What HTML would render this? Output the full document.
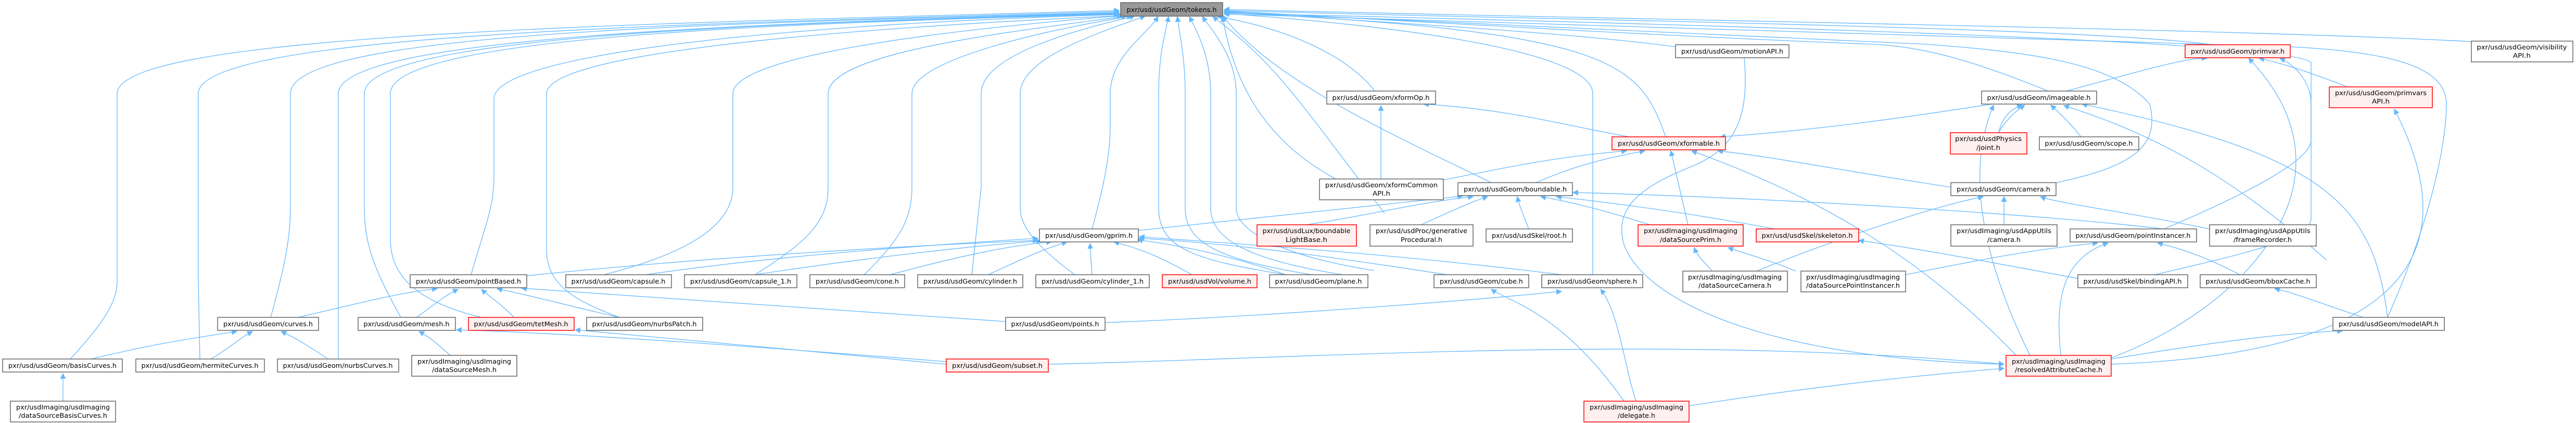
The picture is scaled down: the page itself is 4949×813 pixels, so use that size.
<!DOCTYPE html>
<html><head><meta charset="utf-8"><style>
html,body{margin:0;padding:0;background:#fff}
svg{display:block}
text{font-family:"DejaVu Sans","Liberation Sans",sans-serif;font-size:12.5px;fill:#000}
.e{fill:none;stroke:#63b8ff;stroke-width:1.3}
.n rect{fill:#fff;stroke:#666;stroke-width:1.5}
.r rect{fill:#fff0f0;stroke:#ff0000;stroke-width:1.5}
.t rect{fill:#999;stroke:#666;stroke-width:1.5}
</style></head><body>
<svg width="4949" height="813" viewBox="0 0 4949 813" xmlns="http://www.w3.org/2000/svg">
<defs><marker id="a" viewBox="0 0 10 10" refX="9" refY="5" markerWidth="11" markerHeight="11" markerUnits="userSpaceOnUse" orient="auto"><path d="M0,0 L10,5 L0,10 z" fill="#63b8ff"/></marker></defs>
<g marker-end="url(#a)">
<!-- tokens children left -->
<path class="e" d="M135 690 C200 620 225 580 225 540 L225 180 C225 60 1300 45 2150 20"/>
<path class="e" d="M384 690 L381 540 L381 180 C381 60 1400 45 2150 22"/>
<path class="e" d="M520 610 C545 520 558 460 558 400 L558 180 C558 60 1400 45 2150 24"/>
<path class="e" d="M650 690 L650 180 C650 70 1450 45 2150 25"/>
<path class="e" d="M770 610 C720 520 700 470 700 400 L700 180 C700 70 1450 45 2150 26"/>
<path class="e" d="M925 610 C800 580 750 530 750 460 L750 180 C750 70 1500 45 2150 27"/>
<path class="e" d="M905 528 C930 440 949 400 949 340 L949 190 C949 100 1550 45 2150 28"/>
<path class="e" d="M1190 610 C1110 580 1050 550 1050 480 L1050 180 C1050 110 1500 60 2155 30"/>
<path class="e" d="M1160 528 C1350 480 1408 420 1408 360 L1408 180 C1408 100 1900 50 2160 30"/>
<path class="e" d="M1450 528 C1560 460 1591 420 1591 360 L1591 180 C1591 100 1950 60 2165 31"/>
<path class="e" d="M1660 528 C1730 460 1752 420 1752 360 L1752 180 C1752 110 2050 50 2175 31"/>
<path class="e" d="M1867 528 L1885 360 L1885 180 C1885 100 2100 50 2180 31"/>
<path class="e" d="M2065 528 C2000 480 1960 440 1960 400 L1960 180 C1960 110 2120 60 2200 31"/>
<path class="e" d="M2098 440 C2120 360 2133 300 2133 240 L2133 180 C2133 110 2200 70 2225 32"/>
<path class="e" d="M2470 528 C2300 500 2226 480 2226 400 L2226 180 C2226 100 2240 60 2245 32"/>
<path class="e" d="M2520 528 C2350 500 2277 470 2277 400 L2277 180 C2277 110 2265 60 2262 32"/>
<path class="e" d="M2580 528 C2400 500 2326 460 2326 400 L2326 180 C2326 110 2300 60 2285 32"/>
<path class="e" d="M2640 520 C2450 490 2375 440 2375 400 L2375 180 C2375 110 2330 60 2310 32"/>
<path class="e" d="M2660 410 C2500 200 2450 120 2330 32"/>
<!-- tokens children right/middle -->
<path class="e" d="M2641 175 C2600 120 2500 60 2340 32"/>
<path class="e" d="M2566 344 C2430 270 2370 160 2349 32"/>
<path class="e" d="M2865 351 C2700 270 2450 160 2349 30"/>
<path class="e" d="M3060 528 L3060 180 C3060 100 2700 50 2352 26"/>
<path class="e" d="M3200 263 C3150 120 3100 60 2352 24"/>
<path class="e" d="M3219 90 C3000 60 2600 40 2352 22"/>
<path class="e" d="M4250 86 C4000 50 2800 35 2352 20"/>
<path class="e" d="M4748 80 C4300 55 3000 35 2352 18"/>
<path class="e" d="M3935 175 C3800 120 3700 90 3600 85 C3200 70 2700 40 2352 21"/>
<path class="e" d="M3950 351 C4100 320 4150 280 4130 200 C4060 120 3900 100 3700 85 C3200 60 2700 40 2352 23"/>
<path class="e" d="M4157 440 C4300 380 4440 310 4440 270 L4440 120 C4400 80 3400 50 2352 25"/>
<path class="e" d="M4587 610 C4680 400 4700 260 4700 200 C4700 130 4600 100 4400 90 C3500 60 2800 45 2352 27"/>
<!-- gprim children -->
<path class="e" d="M1012 530 C1400 490 1800 470 1994 462"/>
<path class="e" d="M1240 528 C1500 490 1800 470 1994 458"/>
<path class="e" d="M1450 528 C1700 490 1900 470 2000 463"/>
<path class="e" d="M1710 528 C1850 490 1950 470 2020 465"/>
<path class="e" d="M1898 528 C1960 500 2000 480 2050 465"/>
<path class="e" d="M2098 528 L2094 468"/>
<path class="e" d="M2290 528 C2240 500 2200 480 2140 465"/>
<path class="e" d="M2470 528 C2360 490 2260 470 2185 461"/>
<path class="e" d="M2780 528 C2600 500 2400 470 2188 458"/>
<path class="e" d="M3000 528 C2700 490 2400 470 2189 455"/>
<path class="e" d="M2187 443 C2500 410 2700 390 2810 377"/>
<!-- pointBased children -->
<path class="e" d="M573 610 C700 580 780 560 840 555"/>
<path class="e" d="M800 610 C830 590 850 570 880 556"/>
<path class="e" d="M987 610 C970 590 940 570 925 556"/>
<path class="e" d="M1190 610 C1100 590 1030 570 955 555"/>
<path class="e" d="M1932 618 C1500 590 1200 570 1002 554"/>
<!-- curves children -->
<path class="e" d="M175 690 C300 660 370 650 455 637"/>
<path class="e" d="M405 690 C440 670 460 650 485 637"/>
<path class="e" d="M630 690 C600 670 570 650 540 637"/>
<path class="e" d="M121 771 L121 718"/>
<path class="e" d="M865 683 C850 670 830 650 805 637"/>
<path class="e" d="M1818 695 C1500 670 1100 640 877 634"/>
<path class="e" d="M1818 700 C1600 680 1300 650 1105 634"/>
<path class="e" d="M2014 700 C2500 690 3200 640 3850 700"/>
<path class="e" d="M2123 620 C2400 610 2800 580 3000 560"/>
<!-- boundable children -->
<path class="e" d="M2510 432 C2650 410 2720 390 2830 378"/>
<path class="e" d="M2730 432 C2780 410 2820 390 2858 378"/>
<path class="e" d="M2937 440 C2930 420 2920 400 2915 378"/>
<path class="e" d="M3170 432 C3100 410 3030 390 2960 378"/>
<path class="e" d="M3410 440 C3250 410 3100 390 2990 378"/>
<path class="e" d="M4157 440 C3900 410 3400 380 3022 370"/>
<!-- xformable -->
<path class="e" d="M2773 346 C2900 320 3000 300 3125 290"/>
<path class="e" d="M2951 351 C3000 330 3050 310 3160 290"/>
<path class="e" d="M3243 432 L3210 290"/>
<path class="e" d="M3750 360 C3550 330 3400 300 3300 290"/>
<path class="e" d="M3880 690 C3700 500 3500 380 3250 290"/>
<path class="e" d="M3130 263 C3000 240 2900 210 2735 200"/>
<path class="e" d="M2653 344 L2653 203"/>
<path class="e" d="M3860 195 C3700 220 3500 250 3305 263"/>
<!-- imageable -->
<path class="e" d="M3840 255 C3845 230 3860 210 3885 202"/>
<path class="e" d="M3840 255 C3850 235 3870 215 3890 202"/>
<path class="e" d="M3998 263 C3980 240 3960 220 3940 202"/>
<path class="e" d="M3900 683 C3800 480 3780 320 3830 202"/>
<path class="e" d="M4470 500 C4300 350 4150 260 3965 203"/>
<path class="e" d="M4587 610 C4560 400 4480 300 4000 200"/>
<path class="e" d="M3970 175 C4100 140 4200 110 4240 112"/>
<path class="e" d="M4510 167 C4440 140 4380 120 4340 112"/>
<path class="e" d="M4050 690 C4300 600 4550 350 4320 112"/>
<path class="e" d="M4056 700 C4600 680 4750 500 4600 210"/>
<!-- camera -->
<path class="e" d="M3850 432 L3850 378"/>
<path class="e" d="M4245 440 C4100 410 3950 390 3920 378"/>
<path class="e" d="M3375 521 C3500 470 3700 400 3810 378"/>
<path class="e" d="M3290 521 C3270 500 3260 490 3255 476"/>
<path class="e" d="M3450 521 C3400 500 3360 490 3320 476"/>
<path class="e" d="M3661 528 C3800 500 3900 480 4030 467"/>
<path class="e" d="M4303 528 C4250 500 4200 480 4145 467"/>
<path class="e" d="M3960 690 C3950 600 3950 500 4050 467"/>
<path class="e" d="M4140 528 C4300 490 4440 460 4440 420 L4440 200 C4440 150 4400 120 4380 112"/>
<path class="e" d="M4540 610 C4450 580 4400 560 4370 555"/>
<path class="e" d="M4056 690 C4300 650 4400 640 4500 636"/>
<path class="e" d="M3992 535 C3800 500 3700 480 3571 462"/>
<!-- delegate -->
<path class="e" d="M3120 771 C3000 600 2900 580 2865 556"/>
<path class="e" d="M3143 771 C3120 700 3110 600 3075 556"/>
<path class="e" d="M3245 780 C3500 740 3700 720 3850 708"/>
<path class="e" d="M3350 100 C3360 200 3350 280 3250 320 C3150 360 3100 400 3120 470 C3160 580 3400 690 3850 700"/>
</g>
<!-- nodes -->
<g class="t"><rect x="2153" y="5" width="196" height="26"/><text x="2251" y="23" text-anchor="middle" textLength="173" lengthAdjust="spacingAndGlyphs">pxr/usd/usdGeom/tokens.h</text></g>
<g class="n"><rect x="5" y="690" width="230" height="25"/><text x="120" y="707" text-anchor="middle" textLength="208" lengthAdjust="spacingAndGlyphs">pxr/usd/usdGeom/basisCurves.h</text></g>
<g class="n"><rect x="20" y="771" width="202" height="40"/><text x="121" y="787" text-anchor="middle" textLength="180" lengthAdjust="spacingAndGlyphs">pxr/usdImaging/usdImaging</text><text x="121" y="803" text-anchor="middle" textLength="170" lengthAdjust="spacingAndGlyphs">/dataSourceBasisCurves.h</text></g>
<g class="n"><rect x="261" y="690" width="247" height="25"/><text x="384" y="707" text-anchor="middle" textLength="225" lengthAdjust="spacingAndGlyphs">pxr/usd/usdGeom/hermiteCurves.h</text></g>
<g class="n"><rect x="533" y="690" width="233" height="25"/><text x="649" y="707" text-anchor="middle" textLength="211" lengthAdjust="spacingAndGlyphs">pxr/usd/usdGeom/nurbsCurves.h</text></g>
<g class="n"><rect x="791" y="683" width="202" height="40"/><text x="892" y="699" text-anchor="middle" textLength="180" lengthAdjust="spacingAndGlyphs">pxr/usdImaging/usdImaging</text><text x="892" y="715" text-anchor="middle" textLength="124" lengthAdjust="spacingAndGlyphs">/dataSourceMesh.h</text></g>
<g class="n"><rect x="418" y="610" width="194" height="25"/><text x="515" y="627" text-anchor="middle" textLength="172" lengthAdjust="spacingAndGlyphs">pxr/usd/usdGeom/curves.h</text></g>
<g class="n"><rect x="688" y="610" width="187" height="25"/><text x="781" y="627" text-anchor="middle" textLength="165" lengthAdjust="spacingAndGlyphs">pxr/usd/usdGeom/mesh.h</text></g>
<g class="r"><rect x="900" y="610" width="203" height="25"/><text x="1001" y="627" text-anchor="middle" textLength="181" lengthAdjust="spacingAndGlyphs">pxr/usd/usdGeom/tetMesh.h</text></g>
<g class="n"><rect x="1127" y="610" width="223" height="25"/><text x="1238" y="627" text-anchor="middle" textLength="201" lengthAdjust="spacingAndGlyphs">pxr/usd/usdGeom/nurbsPatch.h</text></g>
<g class="n"><rect x="788" y="528" width="224" height="25"/><text x="900" y="545" text-anchor="middle" textLength="202" lengthAdjust="spacingAndGlyphs">pxr/usd/usdGeom/pointBased.h</text></g>
<g class="n"><rect x="1087" y="528" width="203" height="25"/><text x="1188" y="545" text-anchor="middle" textLength="181" lengthAdjust="spacingAndGlyphs">pxr/usd/usdGeom/capsule.h</text></g>
<g class="n"><rect x="1315" y="528" width="216" height="25"/><text x="1423" y="545" text-anchor="middle" textLength="194" lengthAdjust="spacingAndGlyphs">pxr/usd/usdGeom/capsule_1.h</text></g>
<g class="n"><rect x="1556" y="528" width="182" height="25"/><text x="1647" y="545" text-anchor="middle" textLength="160" lengthAdjust="spacingAndGlyphs">pxr/usd/usdGeom/cone.h</text></g>
<g class="n"><rect x="1763" y="528" width="202" height="25"/><text x="1864" y="545" text-anchor="middle" textLength="180" lengthAdjust="spacingAndGlyphs">pxr/usd/usdGeom/cylinder.h</text></g>
<g class="n"><rect x="1990" y="528" width="218" height="25"/><text x="2099" y="545" text-anchor="middle" textLength="196" lengthAdjust="spacingAndGlyphs">pxr/usd/usdGeom/cylinder_1.h</text></g>
<g class="r"><rect x="2233" y="528" width="182" height="25"/><text x="2324" y="545" text-anchor="middle" textLength="160" lengthAdjust="spacingAndGlyphs">pxr/usd/usdVol/volume.h</text></g>
<g class="n"><rect x="2439" y="528" width="189" height="25"/><text x="2533" y="545" text-anchor="middle" textLength="167" lengthAdjust="spacingAndGlyphs">pxr/usd/usdGeom/plane.h</text></g>
<g class="n"><rect x="2755" y="528" width="182" height="25"/><text x="2846" y="545" text-anchor="middle" textLength="160" lengthAdjust="spacingAndGlyphs">pxr/usd/usdGeom/cube.h</text></g>
<g class="n"><rect x="2962" y="528" width="194" height="25"/><text x="3059" y="545" text-anchor="middle" textLength="172" lengthAdjust="spacingAndGlyphs">pxr/usd/usdGeom/sphere.h</text></g>
<g class="n"><rect x="1997" y="440" width="190" height="25"/><text x="2092" y="457" text-anchor="middle" textLength="168" lengthAdjust="spacingAndGlyphs">pxr/usd/usdGeom/gprim.h</text></g>
<g class="n"><rect x="1932" y="610" width="191" height="25"/><text x="2027" y="627" text-anchor="middle" textLength="169" lengthAdjust="spacingAndGlyphs">pxr/usd/usdGeom/points.h</text></g>
<g class="r"><rect x="1818" y="690" width="196" height="25"/><text x="1916" y="707" text-anchor="middle" textLength="174" lengthAdjust="spacingAndGlyphs">pxr/usd/usdGeom/subset.h</text></g>
<g class="r"><rect x="2415" y="432" width="191" height="41"/><text x="2510" y="448" text-anchor="middle" textLength="169" lengthAdjust="spacingAndGlyphs">pxr/usd/usdLux/boundable</text><text x="2510" y="465" text-anchor="middle" textLength="80" lengthAdjust="spacingAndGlyphs">LightBase.h</text></g>
<g class="n"><rect x="2632" y="432" width="198" height="41"/><text x="2731" y="448" text-anchor="middle" textLength="176" lengthAdjust="spacingAndGlyphs">pxr/usd/usdProc/generative</text><text x="2731" y="465" text-anchor="middle" textLength="80" lengthAdjust="spacingAndGlyphs">Procedural.h</text></g>
<g class="n"><rect x="2855" y="440" width="166" height="25"/><text x="2938" y="457" text-anchor="middle" textLength="144" lengthAdjust="spacingAndGlyphs">pxr/usd/usdSkel/root.h</text></g>
<g class="r"><rect x="3147" y="432" width="202" height="41"/><text x="3248" y="448" text-anchor="middle" textLength="180" lengthAdjust="spacingAndGlyphs">pxr/usdImaging/usdImaging</text><text x="3248" y="465" text-anchor="middle" textLength="118" lengthAdjust="spacingAndGlyphs">/dataSourcePrim.h</text></g>
<g class="r"><rect x="3374" y="440" width="197" height="25"/><text x="3472" y="457" text-anchor="middle" textLength="175" lengthAdjust="spacingAndGlyphs">pxr/usd/usdSkel/skeleton.h</text></g>
<g class="n"><rect x="3233" y="521" width="201" height="40"/><text x="3333" y="537" text-anchor="middle" textLength="180" lengthAdjust="spacingAndGlyphs">pxr/usdImaging/usdImaging</text><text x="3333" y="553" text-anchor="middle" textLength="140" lengthAdjust="spacingAndGlyphs">/dataSourceCamera.h</text></g>
<g class="n"><rect x="3460" y="521" width="201" height="40"/><text x="3560" y="537" text-anchor="middle" textLength="180" lengthAdjust="spacingAndGlyphs">pxr/usdImaging/usdImaging</text><text x="3560" y="553" text-anchor="middle" textLength="180" lengthAdjust="spacingAndGlyphs">/dataSourcePointInstancer.h</text></g>
<g class="r"><rect x="3043" y="771" width="202" height="40"/><text x="3144" y="787" text-anchor="middle" textLength="180" lengthAdjust="spacingAndGlyphs">pxr/usdImaging/usdImaging</text><text x="3144" y="803" text-anchor="middle" textLength="72" lengthAdjust="spacingAndGlyphs">/delegate.h</text></g>
<g class="n"><rect x="3219" y="86" width="218" height="25"/><text x="3328" y="103" text-anchor="middle" textLength="196" lengthAdjust="spacingAndGlyphs">pxr/usd/usdGeom/motionAPI.h</text></g>
<g class="n"><rect x="2549" y="175" width="209" height="25"/><text x="2653" y="192" text-anchor="middle" textLength="187" lengthAdjust="spacingAndGlyphs">pxr/usd/usdGeom/xformOp.h</text></g>
<g class="r"><rect x="3097" y="263" width="218" height="25"/><text x="3206" y="280" text-anchor="middle" textLength="196" lengthAdjust="spacingAndGlyphs">pxr/usd/usdGeom/xformable.h</text></g>
<g class="n"><rect x="2535" y="344" width="238" height="40"/><text x="2654" y="360" text-anchor="middle" textLength="216" lengthAdjust="spacingAndGlyphs">pxr/usd/usdGeom/xformCommon</text><text x="2654" y="376" text-anchor="middle" textLength="34" lengthAdjust="spacingAndGlyphs">API.h</text></g>
<g class="n"><rect x="2801" y="351" width="220" height="25"/><text x="2911" y="368" text-anchor="middle" textLength="198" lengthAdjust="spacingAndGlyphs">pxr/usd/usdGeom/boundable.h</text></g>
<g class="r"><rect x="3747" y="255" width="147" height="41"/><text x="3820" y="271" text-anchor="middle" textLength="128" lengthAdjust="spacingAndGlyphs">pxr/usd/usdPhysics</text><text x="3820" y="288" text-anchor="middle" textLength="46" lengthAdjust="spacingAndGlyphs">/joint.h</text></g>
<g class="n"><rect x="3748" y="351" width="202" height="25"/><text x="3849" y="368" text-anchor="middle" textLength="180" lengthAdjust="spacingAndGlyphs">pxr/usd/usdGeom/camera.h</text></g>
<g class="n"><rect x="3748" y="432" width="204" height="41"/><text x="3850" y="448" text-anchor="middle" textLength="182" lengthAdjust="spacingAndGlyphs">pxr/usdImaging/usdAppUtils</text><text x="3850" y="465" text-anchor="middle" textLength="64" lengthAdjust="spacingAndGlyphs">/camera.h</text></g>
<g class="n"><rect x="3807" y="175" width="221" height="25"/><text x="3917" y="192" text-anchor="middle" textLength="199" lengthAdjust="spacingAndGlyphs">pxr/usd/usdGeom/imageable.h</text></g>
<g class="n"><rect x="3918" y="263" width="191" height="25"/><text x="4013" y="280" text-anchor="middle" textLength="169" lengthAdjust="spacingAndGlyphs">pxr/usd/usdGeom/scope.h</text></g>
<g class="r"><rect x="4198" y="86" width="202" height="25"/><text x="4299" y="103" text-anchor="middle" textLength="180" lengthAdjust="spacingAndGlyphs">pxr/usd/usdGeom/primvar.h</text></g>
<g class="r"><rect x="4475" y="167" width="198" height="40"/><text x="4574" y="183" text-anchor="middle" textLength="176" lengthAdjust="spacingAndGlyphs">pxr/usd/usdGeom/primvars</text><text x="4574" y="199" text-anchor="middle" textLength="34" lengthAdjust="spacingAndGlyphs">API.h</text></g>
<g class="n"><rect x="4748" y="79" width="195" height="40"/><text x="4845" y="95" text-anchor="middle" textLength="173" lengthAdjust="spacingAndGlyphs">pxr/usd/usdGeom/visibility</text><text x="4845" y="111" text-anchor="middle" textLength="34" lengthAdjust="spacingAndGlyphs">API.h</text></g>
<g class="n"><rect x="3977" y="440" width="243" height="25"/><text x="4098" y="457" text-anchor="middle" textLength="221" lengthAdjust="spacingAndGlyphs">pxr/usd/usdGeom/pointInstancer.h</text></g>
<g class="n"><rect x="4245" y="432" width="205" height="41"/><text x="4347" y="448" text-anchor="middle" textLength="183" lengthAdjust="spacingAndGlyphs">pxr/usdImaging/usdAppUtils</text><text x="4347" y="465" text-anchor="middle" textLength="112" lengthAdjust="spacingAndGlyphs">/frameRecorder.h</text></g>
<g class="n"><rect x="3992" y="528" width="211" height="25"/><text x="4097" y="545" text-anchor="middle" textLength="189" lengthAdjust="spacingAndGlyphs">pxr/usd/usdSkel/bindingAPI.h</text></g>
<g class="n"><rect x="4227" y="528" width="223" height="25"/><text x="4338" y="545" text-anchor="middle" textLength="201" lengthAdjust="spacingAndGlyphs">pxr/usd/usdGeom/bboxCache.h</text></g>
<g class="n"><rect x="4482" y="610" width="214" height="25"/><text x="4589" y="627" text-anchor="middle" textLength="192" lengthAdjust="spacingAndGlyphs">pxr/usd/usdGeom/modelAPI.h</text></g>
<g class="r"><rect x="3854" y="683" width="202" height="40"/><text x="3955" y="699" text-anchor="middle" textLength="180" lengthAdjust="spacingAndGlyphs">pxr/usdImaging/usdImaging</text><text x="3955" y="715" text-anchor="middle" textLength="168" lengthAdjust="spacingAndGlyphs">/resolvedAttributeCache.h</text></g>
</svg>
</body></html>
